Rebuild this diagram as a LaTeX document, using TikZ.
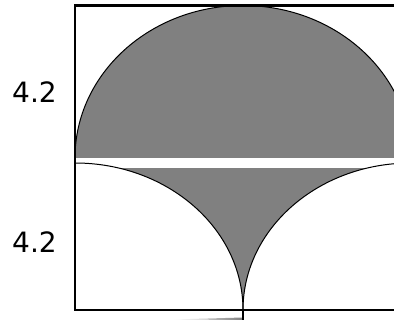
\documentclass[tikz,border=0pt]{standalone}
\usepackage{fontspec}
\setmainfont{DejaVu Sans}
\definecolor{fillgray}{RGB}{128,128,128}
\tikzset{
  lbl/.style={font=\fontsize{28}{34}\selectfont, inner sep=0pt},
  outline/.style={draw=black, line width=1pt},
  frame/.style={draw=black, line width=2.6pt},
}
\begin{document}
\begin{tikzpicture}[x=1pt,y=1pt]
\useasboundingbox (0,0) rectangle (394,320);
\clip (0,0) rectangle (394,320);
% lower gray region between two quarter ellipses
\fill[fillgray] (75,157) arc[start angle=90, end angle=0, x radius=168, y radius=147]
  arc[start angle=180, end angle=90, x radius=168, y radius=147] -- cycle;
% upper semi-ellipse
\fill[fillgray] (75,162) arc[start angle=180, end angle=0, x radius=168, y radius=152.5] -- cycle;
% white band
\fill[white] (76,152) rectangle (400,162);
% outlines
\draw[outline] (75,162) arc[start angle=180, end angle=0, x radius=168, y radius=152.5];
\draw[outline] (75,157) arc[start angle=90, end angle=0, x radius=168, y radius=147];
\draw[outline] (243,10) arc[start angle=180, end angle=90, x radius=168, y radius=147];
% bottom streak
\coordinate (cusp) at (243,10);
\coordinate (foot) at (243,0);
\shade[left color=white, right color=gray] (173,0.5) -- (243,2.5) -- (243,0) -- cycle;
\draw[line width=1.5pt] (cusp) -- (foot);
% frame
\draw[frame] (420,314.5) -- (75,314.5) -- (75,10) -- (420,10);
% labels
\node[lbl] (top) at (34.5,227.5) {4.2};
\node[lbl] (bot) at (34.5,77.5) {4.2};
\end{tikzpicture}
\end{document}
